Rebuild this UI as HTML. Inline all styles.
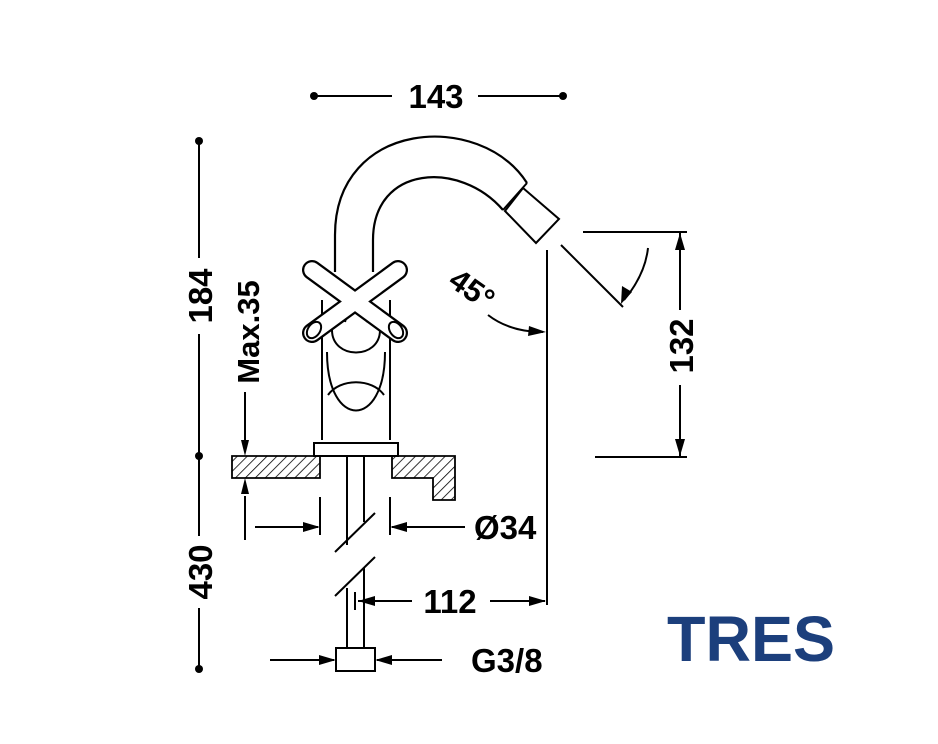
<!DOCTYPE html>
<html><head><style>
html,body{margin:0;padding:0;background:#fff;}
svg{display:block;}
text{font-family:"Liberation Sans",Arial,sans-serif;font-weight:bold;fill:#000;}
</style></head><body>
<svg width="938" height="744" viewBox="0 0 938 744" xmlns="http://www.w3.org/2000/svg">
<defs>
<pattern id="h" patternUnits="userSpaceOnUse" width="7" height="7" patternTransform="rotate(45)">
<rect width="7" height="7" fill="#fff"/><line x1="0" y1="0" x2="0" y2="7" stroke="#000" stroke-width="1.6"/>
</pattern>
</defs>
<g stroke="#000" stroke-width="2" fill="none">
<line x1="314" y1="96" x2="392" y2="96"/><line x1="478" y1="96" x2="563" y2="96"/>
<line x1="199" y1="141" x2="199" y2="258"/><line x1="199" y1="334" x2="199" y2="536"/><line x1="199" y1="608" x2="199" y2="669"/>
<line x1="245" y1="392" x2="245" y2="440"/><line x1="245" y1="496" x2="245" y2="540"/>
<path d="M232 456 H320 V478 H232 Z" fill="url(#h)" stroke-width="1.8"/>
<path d="M392 456 H455 V500 H433 V478 H392 Z" fill="url(#h)" stroke-width="1.8"/>
<path d="M335 272 V235 C335 120 480 110 527 183" stroke-width="2.2"/>
<path d="M373 272 V240 C373 165 460 160 503 210" stroke-width="2.2"/>
<line x1="503" y1="210" x2="527" y2="183"/>
<path d="M523 188 L559 219 L536 243 L505 211 Z" fill="#fff"/>
<path d="M322 440 V300 M390 440 V300"/>
<path d="M314 443 H398 V456 H314 Z" fill="#fff"/>
<path d="M327 352 C327 430 385 430 385 352" />
<path d="M328 395 C340 378 372 378 384 395"/>
<path d="M332 330 C332 360 380 360 380 330"/>
<path d="M345 322 C348 308 364 308 367 322"/>
<g stroke-linecap="round">
<line x1="312" y1="270" x2="398" y2="333" stroke-width="20"/>
<line x1="398" y1="270" x2="312" y2="333" stroke-width="20"/>
<line x1="312" y1="270" x2="398" y2="333" stroke="#fff" stroke-width="15.5"/>
<line x1="398" y1="270" x2="312" y2="333" stroke="#fff" stroke-width="15.5"/>
</g>
<ellipse cx="314" cy="330" rx="6" ry="9" transform="rotate(35 314 330)"/>
<ellipse cx="396" cy="330" rx="6" ry="9" transform="rotate(-35 396 330)"/>
<path d="M347 456 V545 M364 456 V522 M347 588 V650 M364 568 V650"/>
<line x1="335" y1="552" x2="375" y2="513"/><line x1="335" y1="596" x2="375" y2="557"/>
<rect x="336" y="648" width="39" height="23" fill="#fff"/>
<line x1="320" y1="497" x2="320" y2="535"/><line x1="390" y1="497" x2="390" y2="535"/>
<line x1="255" y1="527" x2="318" y2="527"/><line x1="392" y1="527" x2="465" y2="527"/>
<line x1="355" y1="592" x2="355" y2="610"/>
<line x1="358" y1="601" x2="412" y2="601"/><line x1="490" y1="601" x2="545" y2="601"/>
<line x1="270" y1="660" x2="334" y2="660"/><line x1="377" y1="660" x2="442" y2="660"/>
<line x1="547" y1="250" x2="547" y2="605"/>
<path d="M488 315 Q510 332 543 332"/>
<line x1="561" y1="245" x2="623" y2="307"/>
<path d="M648 248 Q645 275 624 300"/>
<line x1="583" y1="232" x2="687" y2="232"/><line x1="595" y1="457" x2="687" y2="457"/>
<line x1="680" y1="232" x2="680" y2="310"/><line x1="680" y1="385" x2="680" y2="457"/>
</g>
<g fill="#000">
<circle cx="314" cy="96" r="4"/><circle cx="563" cy="96" r="4"/>
<circle cx="199" cy="141" r="4"/><circle cx="199" cy="456" r="4"/><circle cx="199" cy="669" r="4"/>
<polygon points="245,456 241,440 249,440"/><polygon points="245,478 241,494 249,494"/>
<polygon points="320,527 303,522 303,532"/><polygon points="390,527 407,522 407,532"/>
<polygon points="358,601 375,596 375,606"/><polygon points="546,601 529,596 529,606"/>
<polygon points="336,660 319,655 319,665"/><polygon points="375,660 392,655 392,665"/>
<polygon points="546,332 529,326 528,336"/>
<polygon points="621,304 622,286 632,292"/>
<polygon points="680,233 675,250 685,250"/><polygon points="680,456 675,439 685,439"/>
</g>
<text x="436" y="108" font-size="33" text-anchor="middle">143</text>
<text transform="translate(212,296) rotate(-90)" font-size="33" text-anchor="middle">184</text>
<text transform="translate(212,572) rotate(-90)" font-size="33" text-anchor="middle">430</text>
<text transform="translate(259,332) rotate(-90)" font-size="31" text-anchor="middle">Max.35</text>
<text transform="translate(693,346) rotate(-90)" font-size="33" text-anchor="middle">132</text>
<text transform="translate(466,298) rotate(35)" font-size="31" text-anchor="middle">45°</text>
<text x="474" y="539" font-size="33">Ø34</text>
<text x="450" y="613" font-size="33" text-anchor="middle">112</text>
<text x="471" y="672" font-size="33">G3/8</text>
<text x="667" y="661" font-size="64" textLength="168" lengthAdjust="spacingAndGlyphs" style="fill:#1c3f7c">TRES</text>
</svg>
</body></html>
